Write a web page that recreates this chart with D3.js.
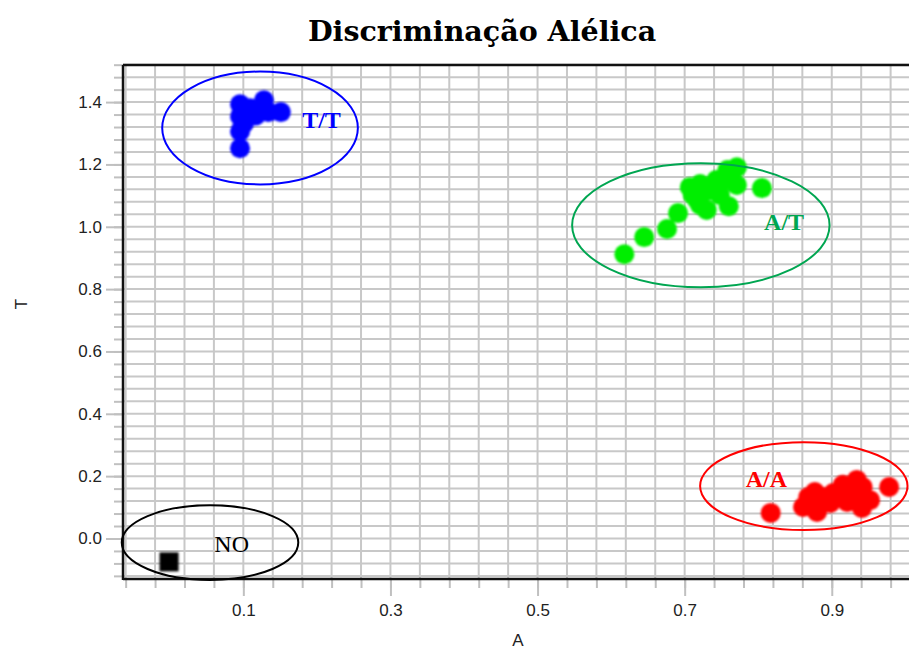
<!DOCTYPE html>
<html>
<head>
<meta charset="utf-8">
<script src="https://cdn.jsdelivr.net/npm/d3@7"></script>
<style>
  body { margin: 0; background: #fff; }
</style>
</head>
<body>
<div id="chart"></div>
<script>
// Genotype groups (allele A signal vs allele T signal)
const groups = ["T/T", "A/T", "A/A", "NO"];
const groupColors = ["#0000ff", "#00ee00", "#ff0000", "#000000"];
const ringColors = ["#0000ff", "#00a651", "#ff0000", "#000000"];

// T/T samples
const ttA = [0.0955, 0.128, 0.151, 0.0955, 0.0955, 0.0955, 0.117, 0.134, 0.109, 0.101];
const ttT = [1.393, 1.406, 1.368, 1.306, 1.252, 1.354, 1.357, 1.368, 1.380, 1.332];

// A/T samples
const atA = [0.618, 0.645, 0.676, 0.691, 0.707, 0.721, 0.717, 0.730, 0.743, 0.758,
             0.771, 0.771, 0.760, 0.805, 0.748, 0.735, 0.721, 0.711, 0.756];
const atT = [0.912, 0.967, 0.993, 1.044, 1.127, 1.137, 1.086, 1.054, 1.150, 1.182,
             1.191, 1.134, 1.066, 1.124, 1.102, 1.117, 1.070, 1.102, 1.150];

// A/A samples
const aaA = [0.817, 0.978, 0.861, 0.877, 0.880, 0.902, 0.915, 0.934, 0.942, 0.952,
             0.941, 0.921, 0.898, 0.888, 0.911, 0.932, 0.868];
const aaT = [0.082, 0.165, 0.101, 0.149, 0.085, 0.146, 0.172, 0.188, 0.165, 0.123,
             0.098, 0.117, 0.114, 0.133, 0.140, 0.133, 0.133];

// No-template control
const noA = [-0.001];
const noT = [-0.075];

// Cluster ellipses (centre A, centre T, radius A, radius T) and their labels
const ellipseCA = [0.1227, 0.722, 0.862, 0.0547];
const ellipseCT = [1.317, 1.005, 0.168, -0.013];
const ellipseRA = [0.133, 0.175, 0.141, 0.120];
const ellipseRT = [0.181, 0.199, 0.141, 0.120];
const labelA = [0.180, 0.808, 0.783, 0.0606];
const labelT = [1.318, 0.989, 0.1636, -0.042];

// Axis ticks
const xTickLabels = [0.1, 0.3, 0.5, 0.7, 0.9];
const yTickLabels = [0.0, 0.2, 0.4, 0.6, 0.8, 1.0, 1.2, 1.4];
const xMinor = d3.range(-6, 103, 4).map(v => v / 100);
const yMinor = d3.range(-12, 153, 4).map(v => v / 100);

const width = 909, height = 651;
const plot = { left: 123, right: 909, top: 65, bottom: 579 };

const x = d3.scaleLinear().domain([-0.0636, 1.005]).range([plot.left, plot.right]);
const y = d3.scaleLinear().domain([-0.13, 1.519]).range([plot.bottom, plot.top]);

const svg = d3.select("#chart").append("svg")
    .attr("width", width)
    .attr("height", height);

// soft edge on the dots
svg.append("defs").append("filter")
    .attr("id", "soft")
    .append("feGaussianBlur")
    .attr("stdDeviation", 0.8);

// Title
svg.append("text")
    .attr("x", 482)
    .attr("y", 41)
    .attr("text-anchor", "middle")
    .style("font-family", "'DejaVu Serif', serif")
    .style("font-weight", "bold")
    .style("font-size", "28.5px")
    .text("Discriminação Alélica");

// Grid lines
const grid = svg.append("g").attr("stroke", "#c8c8c8").attr("stroke-width", 2);
grid.selectAll(".vx").data(xMinor).enter().append("line")
    .attr("x1", d => x(d)).attr("x2", d => x(d))
    .attr("y1", plot.top).attr("y2", plot.bottom);
grid.selectAll(".hy").data(yMinor).enter().append("line")
    .attr("x1", plot.left).attr("x2", plot.right)
    .attr("y1", d => y(d)).attr("y2", d => y(d));

// Axes: minor ticks, then major ticks with labels
function styleAxis(g) {
    g.select(".domain").remove();
    g.selectAll(".tick line").attr("stroke", "#c0c0c0").attr("stroke-width", 2);
    g.selectAll(".tick text")
        .attr("fill", "#222")
        .style("font-family", "'Liberation Sans', Arial, sans-serif")
        .style("font-size", "17px");
}

svg.append("g")
    .attr("transform", `translate(0,${plot.bottom})`)
    .call(d3.axisBottom(x).tickValues(xMinor).tickSize(9).tickFormat(""))
    .call(styleAxis);
svg.append("g")
    .attr("transform", `translate(0,${plot.bottom})`)
    .call(d3.axisBottom(x).tickValues(xTickLabels).tickSize(17).tickPadding(8).tickFormat(d3.format(".1f")))
    .call(styleAxis);

svg.append("g")
    .attr("transform", `translate(${plot.left},0)`)
    .call(d3.axisLeft(y).tickValues(yMinor).tickSize(9).tickFormat(""))
    .call(styleAxis);
svg.append("g")
    .attr("transform", `translate(${plot.left},0)`)
    .call(d3.axisLeft(y).tickValues(yTickLabels).tickSize(17).tickPadding(4).tickFormat(d3.format(".1f")))
    .call(styleAxis);

// Frame lines
svg.append("line")
    .attr("x1", plot.left).attr("x2", plot.right)
    .attr("y1", plot.top).attr("y2", plot.top)
    .attr("stroke", "#111").attr("stroke-width", 2.5);
svg.append("line")
    .attr("x1", plot.left).attr("x2", plot.right)
    .attr("y1", plot.bottom).attr("y2", plot.bottom)
    .attr("stroke", "#111").attr("stroke-width", 2.5);
svg.append("line")
    .attr("x1", plot.left).attr("x2", plot.left)
    .attr("y1", plot.top).attr("y2", plot.bottom + 1)
    .attr("stroke", "#111").attr("stroke-width", 2.5);

// Axis titles
svg.append("text")
    .attr("x", 518).attr("y", 646)
    .attr("text-anchor", "middle")
    .attr("fill", "#222")
    .style("font-family", "'Liberation Sans', Arial, sans-serif")
    .style("font-size", "17px")
    .text("A");
svg.append("text")
    .attr("transform", "translate(27,304) rotate(-90)")
    .attr("text-anchor", "middle")
    .attr("fill", "#222")
    .style("font-family", "'Liberation Sans', Arial, sans-serif")
    .style("font-size", "17px")
    .text("T");

// Sample points
const pts = svg.append("g").attr("filter", "url(#soft)");
[[ttA, ttT], [atA, atT], [aaA, aaT]].forEach(([a, t], i) => {
    pts.selectAll(".g" + i).data(a.map((v, k) => [v, t[k]])).enter().append("circle")
        .attr("cx", d => x(d[0]))
        .attr("cy", d => y(d[1]))
        .attr("r", 10)
        .attr("fill", groupColors[i]);
});
pts.selectAll(".no").data(noA.map((v, k) => [v, noT[k]])).enter().append("rect")
    .attr("x", d => x(d[0]) - 9.5)
    .attr("y", d => y(d[1]) - 9.5)
    .attr("width", 19)
    .attr("height", 19)
    .attr("fill", groupColors[3]);

// Cluster ellipses and labels
svg.append("g").selectAll("ellipse").data(groups).enter().append("ellipse")
    .attr("cx", (d, i) => x(ellipseCA[i]))
    .attr("cy", (d, i) => y(ellipseCT[i]))
    .attr("rx", (d, i) => x(ellipseRA[i]) - x(0))
    .attr("ry", (d, i) => y(0) - y(ellipseRT[i]))
    .attr("fill", "none")
    .attr("stroke", (d, i) => ringColors[i])
    .attr("stroke-width", 2);

svg.append("g").selectAll("text").data(groups).enter().append("text")
    .attr("x", (d, i) => x(labelA[i]))
    .attr("y", (d, i) => y(labelT[i]))
    .attr("fill", (d, i) => ringColors[i])
    .style("font-family", "'Liberation Serif', 'Times New Roman', serif")
    .style("font-weight", d => d === "NO" ? "normal" : "bold")
    .style("font-size", "24px")
    .text(d => d);
</script>
</body>
</html>
